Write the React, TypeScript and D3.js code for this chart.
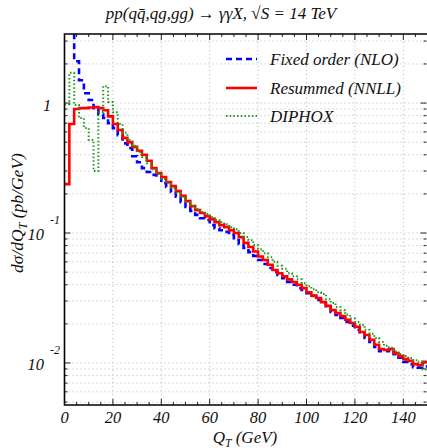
import React from "react";
import * as d3 from "d3";

// Q_T bins (GeV), lower edges, 2 GeV wide
const qtBins = [
  0, 2, 4, 6, 8, 10, 12, 14, 16, 18, 20, 22, 24, 26, 28, 30, 32, 34, 36, 38,
  40, 42, 44, 46, 48, 50, 52, 54, 56, 58, 60, 62, 64, 66, 68, 70, 72, 74, 76, 78,
  80, 82, 84, 86, 88, 90, 92, 94, 96, 98, 100, 102, 104, 106, 108, 110, 112, 114, 116, 118,
  120, 122, 124, 126, 128, 130, 132, 134, 136, 138, 140, 142, 144, 146, 148,
];
const qtMax = 150;

// d sigma / d Q_T  (pb/GeV)
const fixedOrder = [
  12, 5, 2.1, 1.5, 1.19, 1.055, 0.915, 0.82, 0.767, 0.7,
  0.642, 0.567, 0.49, 0.45, 0.39, 0.35, 0.316, 0.295, 0.28, 0.27,
  0.242, 0.226, 0.207, 0.19, 0.173, 0.159, 0.148, 0.138, 0.13, 0.126,
  0.115, 0.109, 0.105, 0.102, 0.0965, 0.0884, 0.0824, 0.0767, 0.0713, 0.0665,
  0.062, 0.0578, 0.0538, 0.05, 0.0475, 0.045, 0.042, 0.04, 0.0377, 0.0364,
  0.0345, 0.0328, 0.0305, 0.0289, 0.0265, 0.0247, 0.0234, 0.0222, 0.0207, 0.0194,
  0.018, 0.0168, 0.0156, 0.0145, 0.0133, 0.0123, 0.0123, 0.0126, 0.0117, 0.011,
  0.0102, 0.0098, 0.0093, 0.0092, 0.0094,
];
const resummed = [
  0.238, 0.69, 0.9, 0.915, 0.915, 0.925, 0.93, 0.915, 0.88, 0.79,
  0.69, 0.62, 0.54, 0.5, 0.46, 0.43, 0.4, 0.36, 0.316, 0.289,
  0.27, 0.247, 0.23, 0.21, 0.193, 0.176, 0.161, 0.15, 0.1425, 0.135,
  0.128, 0.121, 0.115, 0.111, 0.105, 0.1, 0.093, 0.084, 0.078, 0.072,
  0.066, 0.062, 0.057, 0.052, 0.049, 0.0465, 0.044, 0.042, 0.04, 0.0377,
  0.035, 0.033, 0.0316, 0.0294, 0.0275, 0.0255, 0.0242, 0.023, 0.0215, 0.0203,
  0.019, 0.0173, 0.0164, 0.0151, 0.0138, 0.0128, 0.0126, 0.0128, 0.0119, 0.0113,
  0.0107, 0.0104, 0.0098, 0.0096, 0.0102,
];
const diphox = [
  0.98, 1.71, 0.965, 0.767, 0.642, 0.52, 0.3, 0.85, 1.35, 1.02,
  0.85, 0.69, 0.59, 0.52, 0.47, 0.42, 0.384, 0.345, 0.31, 0.284,
  0.26, 0.242, 0.222, 0.203, 0.19, 0.173, 0.161, 0.153, 0.145, 0.14,
  0.133, 0.126, 0.121, 0.117, 0.111, 0.107, 0.1, 0.093, 0.088, 0.081,
  0.075, 0.07, 0.065, 0.06, 0.056, 0.053, 0.049, 0.0465, 0.044, 0.041,
  0.039, 0.037, 0.035, 0.034, 0.031, 0.029, 0.027, 0.0255, 0.0236, 0.022,
  0.0207, 0.0196, 0.018, 0.0168, 0.0156, 0.0145, 0.0136, 0.0131, 0.0123, 0.0117,
  0.0113, 0.0109, 0.0105, 0.0102, 0.0089,
];

const xTickLabels = [0, 20, 40, 60, 80, 100, 120, 140];
const yDecades = [1, 0.1, 0.01];
const yDecadeExp = ["", "-1", "-2"];

const series = [
  { name: "Fixed order (NLO)", values: fixedOrder, color: "#0000ff", width: 2.6, dash: "6,4" },
  { name: "Resummed (NNLL)", values: resummed, color: "#ff0000", width: 2.6, dash: null },
  { name: "DIPHOX", values: diphox, color: "#1c9a1c", width: 2, dash: "1.5,2.2" },
];

const txt: React.CSSProperties = {
  fontFamily: '"Liberation Serif", "Times New Roman", Times, serif',
  fontStyle: "italic",
  fill: "#111",
};

export default function App() {
  const W = 427, H = 448;
  const left = 64.5, right = 427.5, top = 34, bottom = 405;

  const x = d3.scaleLinear().domain([0, qtMax]).range([left, right]);
  const y = d3.scaleLog().domain([0.00475, 3.4]).range([bottom, top]);

  const step = d3
    .line<[number, number]>()
    .x((d) => x(d[0]))
    .y((d) => y(d[1]))
    .curve(d3.curveStepAfter);

  const pts = (vals: number[]) =>
    [...qtBins.map((q, i) => [q, vals[i]] as [number, number]), [qtMax, vals[vals.length - 1]] as [number, number]];

  const yMinor = y.ticks().filter((t) => !yDecades.some((d) => Math.abs(d - t) < 1e-9));
  const xMinor = d3.range(0, qtMax + 1, 5);

  return (
    <svg width={W} height={H} style={{ position: "absolute", left: 0, top: 0, background: "#fff" }}>
      <defs>
        <clipPath id="plot">
          <rect x={left} y={top} width={right - left} height={bottom - top} />
        </clipPath>
      </defs>

      {/* grid */}
      <g stroke="#b8b8b8" strokeWidth={1} strokeDasharray="1,3">
        {[...yDecades, ...yMinor].map((t, i) => (
          <line key={"gy" + i} x1={left} x2={right} y1={y(t)} y2={y(t)} />
        ))}
        {xTickLabels.slice(1).map((t) => (
          <line key={"gx" + t} x1={x(t)} x2={x(t)} y1={top} y2={bottom} />
        ))}
      </g>

      {/* ticks */}
      <g stroke="#222" strokeWidth={1}>
        {xMinor.map((t) => {
          const len = t % 20 === 0 ? 6 : 3;
          return (
            <g key={"tx" + t}>
              <line x1={x(t)} x2={x(t)} y1={bottom} y2={bottom - len} />
              <line x1={x(t)} x2={x(t)} y1={top} y2={top + len} />
            </g>
          );
        })}
        {[...yDecades, ...yMinor].map((t, i) => {
          const len = yDecades.includes(t) ? 6 : 3;
          return (
            <g key={"ty" + i}>
              <line x1={left} x2={left + len} y1={y(t)} y2={y(t)} />
              <line x1={right - 1} x2={right - 1 - len} y1={y(t)} y2={y(t)} />
            </g>
          );
        })}
      </g>

      {/* curves */}
      <g clipPath="url(#plot)" fill="none">
        {series.map((s) => (
          <path
            key={s.name}
            d={step(pts(s.values)) || ""}
            stroke={s.color}
            strokeWidth={s.width}
            strokeDasharray={s.dash || undefined}
            strokeLinejoin="miter"
          />
        ))}
      </g>

      {/* frame */}
      <path
        d={`M${right},${top}H${left}V${bottom}H${right}`}
        fill="none"
        stroke="#000"
        strokeWidth={1.6}
      />

      {/* legend */}
      {series.map((s, i) => {
        const ly = [59, 88, 116][i];
        return (
          <g key={"lg" + i}>
            <line
              x1={226}
              x2={257}
              y1={ly}
              y2={ly}
              stroke={s.color}
              strokeWidth={s.width}
              strokeDasharray={s.dash || undefined}
            />
            <text x={270} y={ly + 5.5} fontSize={17} style={txt}>
              {s.name}
            </text>
          </g>
        );
      })}

      {/* x labels */}
      {xTickLabels.map((t) => (
        <text key={"xl" + t} x={x(t)} y={423} textAnchor="middle" fontSize={16.5} style={txt}>
          {t}
        </text>
      ))}
      <text x={245} y={443} textAnchor="middle" fontSize={17} style={txt}>
        Q<tspan fontSize={11.5} dy={4}>T</tspan>
        <tspan dy={-4}> (GeV)</tspan>
      </text>

      {/* y labels */}
      {yDecades.map((t, i) =>
        i === 0 ? (
          <text key="yl0" x={47} y={y(t) + 8} textAnchor="middle" fontSize={16.5} style={txt}>
            1
          </text>
        ) : (
          <g key={"yl" + i}>
            <text x={44} y={y(t) + 7} textAnchor="end" fontSize={16.5} style={txt}>
              10
            </text>
            <text x={50} y={y(t) - 9} fontSize={12} style={txt}>
              {yDecadeExp[i]}
            </text>
          </g>
        )
      )}
      <text transform="translate(23,213) rotate(-90)" textAnchor="middle" fontSize={17.5} style={txt}>
        dσ/dQ<tspan fontSize={12} dy={4}>T</tspan>
        <tspan dy={-4}> (pb/GeV)</tspan>
      </text>

      {/* title */}
      <text x={221} y={19} textAnchor="middle" fontSize={17} style={txt}>
        pp(qq̄,qg,gg) → γγX, √S = 14 TeV
      </text>
    </svg>
  );
}
